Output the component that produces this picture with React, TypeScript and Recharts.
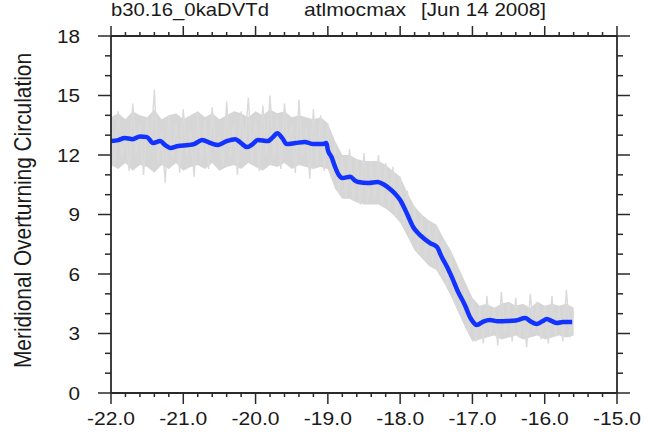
import React from 'react';
import { ComposedChart, Line, Area, XAxis, YAxis } from 'recharts';

const FONT = '"Liberation Sans", Arial, Helvetica, sans-serif';
const AXIS = '#2a2a2a';
const TEXT = '#1a1a1a';

const TITLE_PARTS = ['b30.16_0kaDVTd', 'atlmocmax', '[Jun 14 2008]'];
const Y_LABEL = 'Meridional Overturning Circulation';

const X_MAJOR = [-22, -21, -20, -19, -18, -17, -16, -15];
const X_MINOR = [
  -21.8, -21.6, -21.4, -21.2, -20.8, -20.6, -20.4, -20.2, -19.8, -19.6, -19.4, -19.2,
  -18.8, -18.6, -18.4, -18.2, -17.8, -17.6, -17.4, -17.2, -16.8, -16.6, -16.4, -16.2,
  -15.8, -15.6, -15.4, -15.2,
];
const Y_MAJOR = [0, 3, 6, 9, 12, 15, 18];
const Y_MINOR = [1, 2, 4, 5, 7, 8, 10, 11, 13, 14, 16, 17];

// raw samples (grey spikes), one every 0.05 kyr from -22.0
const GREY_START = -22;
const GREY_STEP = 0.05;
const greyValues = [
  13.4, 11.5, 14.2, 11.9, 13.0, 11.2, 14.6, 12.1, 13.5, 11.0,
  13.9, 12.3, 15.3, 11.6, 13.1, 10.6, 14.0, 11.8, 13.6, 11.1,
  14.3, 12.0, 13.2, 10.9, 14.1, 11.7, 13.8, 11.3, 14.4, 12.2,
  13.0, 11.4, 14.7, 11.9, 13.5, 11.0, 14.2, 12.4, 14.9, 11.6,
  13.7, 11.2, 14.5, 12.0, 15.0, 11.8, 13.9, 11.3, 14.6, 12.5,
  13.6, 11.1, 14.8, 11.9, 13.4, 10.8, 14.3, 11.5, 14.0, 11.2,
  13.6, 10.8, 12.6, 10.1, 11.9, 9.9, 12.3, 9.7, 11.8, 9.5,
  12.1, 9.6, 11.7, 9.8, 12.0, 9.4, 11.6, 9.3, 11.4, 8.9,
  10.9, 8.5, 10.2, 7.8, 9.4, 7.0, 8.9, 6.8, 8.6, 6.5,
  8.4, 6.1, 7.6, 5.4, 7.0, 4.6, 6.1, 3.9, 5.3, 3.0,
  4.6, 2.6, 4.4, 2.5, 4.9, 2.9, 4.3, 2.4, 5.1, 3.0,
  4.5, 2.6, 4.8, 2.8, 4.2, 2.3, 5.0, 3.1, 4.6, 2.7,
  4.4, 2.5, 4.9, 2.9, 4.3, 2.6, 5.2, 2.8, 4.1,
];

// dense core of the grey spread, one every 0.1 kyr from -22.0
const BAND_STEP = 0.1;
const bandLow = [
  11.5, 11.3, 11.6, 11.2, 11.5, 11.4, 11.1, 11.5, 11.3, 11.6,
  11.2, 11.4, 11.5, 11.3, 11.6, 11.2, 11.4, 11.5, 11.3, 11.6,
  11.4, 11.2, 11.5, 11.4, 11.6, 11.3, 11.5, 11.4, 11.3, 11.4,
  11.3, 10.3, 9.8, 9.8, 9.6, 9.5, 9.5, 9.5, 9.3, 9.0,
  8.6, 7.9, 7.2, 6.8, 6.4, 6.2, 5.6, 4.9, 4.1, 3.3,
  2.6, 2.7, 2.8, 2.9, 2.7, 2.8, 2.9, 2.7, 2.8, 2.9,
  2.7, 2.8, 2.9, 2.8, 2.9,
];
const bandHigh = [
  13.9, 14.1, 13.8, 14.2, 14.0, 13.9, 14.3, 13.8, 14.0, 14.1,
  13.8, 14.0, 14.2, 13.9, 14.1, 13.8, 14.0, 14.2, 14.1, 13.9,
  14.2, 14.0, 14.3, 14.1, 14.2, 13.9, 14.0, 13.9, 13.8, 13.9,
  13.6, 12.7, 12.0, 12.0, 11.8, 11.7, 11.7, 11.7, 11.5, 11.2,
  10.9, 10.1, 9.4, 9.0, 8.7, 8.5, 7.8, 7.2, 6.4, 5.6,
  4.8, 4.4, 4.5, 4.3, 4.5, 4.6, 4.4, 4.5, 4.3, 4.6,
  4.4, 4.5, 4.4, 4.5, 4.3,
];

// smoothed curve (blue)
const blueYears = [
  -22.0, -21.9, -21.81, -21.7, -21.6, -21.5, -21.42, -21.32, -21.25, -21.18,
  -21.07, -20.93, -20.85, -20.74, -20.62, -20.52, -20.4, -20.28, -20.2, -20.12,
  -20.04, -19.97, -19.83, -19.76, -19.7, -19.63, -19.57, -19.45, -19.32, -19.2,
  -19.08, -19.02, -19.0, -18.95, -18.9, -18.85, -18.8, -18.69, -18.62, -18.58,
  -18.44, -18.31, -18.22, -18.14, -18.07, -18.0, -17.9, -17.82, -17.75, -17.68,
  -17.58, -17.49, -17.43, -17.35, -17.28, -17.21, -17.1, -17.03, -16.99, -16.94,
  -16.85, -16.76, -16.65, -16.52, -16.4, -16.27, -16.2, -16.11, -16.04, -15.97,
  -15.9, -15.83, -15.75, -15.62,
];
const blueValues = [
  12.7, 12.75, 12.86, 12.8, 12.93, 12.9, 12.6, 12.7, 12.5, 12.35,
  12.45, 12.5, 12.55, 12.76, 12.6, 12.5, 12.7, 12.8, 12.6, 12.4,
  12.55, 12.76, 12.7, 12.9, 13.1, 12.85, 12.55, 12.6, 12.66, 12.55,
  12.55, 12.6, 12.25, 11.9, 11.4, 11.0, 10.84, 10.9, 10.7, 10.64,
  10.59, 10.64, 10.5, 10.29, 10.05, 9.73, 9.0, 8.37, 8.05, 7.82,
  7.55, 7.36, 6.9, 6.35, 5.8, 5.19, 4.4, 3.8, 3.58, 3.43,
  3.6, 3.68, 3.62, 3.63, 3.66, 3.78, 3.62, 3.48, 3.6, 3.73,
  3.62, 3.53, 3.58, 3.58,
];

const greyData = greyValues.map((v, i) => ({
  year: +(GREY_START + i * GREY_STEP).toFixed(2),
  value: v,
}));
const bandData = bandLow.map((lo, i) => ({
  year: +(GREY_START + i * BAND_STEP).toFixed(2),
  range: [lo, bandHigh[i]],
}));
const blueData = blueYears.map((y, i) => ({ year: y, value: blueValues[i] }));

const isWhole = (v: number) => Math.abs(v - Math.round(v)) < 1e-6;

const BottomTick = ({ x, y, payload }: any) => {
  const major = isWhole(payload.value);
  return (
    <g>
      <line x1={x} x2={x} y1={y} y2={y + (major ? 11 : 4)} stroke={AXIS} strokeWidth={1.5} />
      {major && (
        <text
          x={x}
          y={y + 32}
          textAnchor="middle"
          fontSize={18}
          fontFamily={FONT}
          fill={TEXT}
          textLength={48}
          lengthAdjust="spacingAndGlyphs"
        >
          {payload.value.toFixed(1)}
        </text>
      )}
    </g>
  );
};

const TopTick = ({ x, y, payload }: any) => {
  const major = isWhole(payload.value);
  return <line x1={x} x2={x} y1={y} y2={y - (major ? 10 : 4)} stroke={AXIS} strokeWidth={1.5} />;
};

const LeftTick = ({ x, y, payload }: any) => {
  const major = payload.value % 3 === 0;
  const label = String(payload.value);
  return (
    <g>
      <line x1={x} x2={x - (major ? 13 : 6)} y1={y} y2={y} stroke={AXIS} strokeWidth={1.5} />
      {major && (
        <text
          x={x - 31}
          y={y + 6.5}
          textAnchor="end"
          fontSize={18}
          fontFamily={FONT}
          fill={TEXT}
          textLength={label.length * 11.5}
          lengthAdjust="spacingAndGlyphs"
        >
          {label}
        </text>
      )}
    </g>
  );
};

const RightTick = ({ x, y, payload }: any) => {
  const major = payload.value % 3 === 0;
  return <line x1={x} x2={x + (major ? 13 : 6)} y1={y} y2={y} stroke={AXIS} strokeWidth={1.5} />;
};

const TitleLabel = ({ viewBox }: any) => {
  const left = viewBox && viewBox.x != null ? viewBox.x : 111;
  const widths = [158, 102, 125];
  const offsets = [0, 193, 310];
  return (
    <g>
      {TITLE_PARTS.map((t, i) => (
        <text
          key={t}
          x={left + offsets[i]}
          y={16}
          fontSize={19}
          fontFamily={FONT}
          fill={TEXT}
          textLength={widths[i]}
          lengthAdjust="spacingAndGlyphs"
        >
          {t}
        </text>
      ))}
    </g>
  );
};

const YTitle = ({ viewBox }: any) => {
  const cy = viewBox && viewBox.height ? viewBox.y + viewBox.height / 2 - 4 : 210;
  return (
    <text
      transform={`translate(31,${cy}) rotate(-90)`}
      textAnchor="middle"
      fontSize={24}
      fontFamily={FONT}
      fill={TEXT}
      textLength={315}
      lengthAdjust="spacingAndGlyphs"
    >
      {Y_LABEL}
    </text>
  );
};

export default function App() {
  const xTicks = [...X_MAJOR, ...X_MINOR].sort((a, b) => a - b);
  const yTicks = [...Y_MAJOR, ...Y_MINOR].sort((a, b) => a - b);
  const axisLine = { stroke: AXIS, strokeWidth: 1.8 };

  return (
    <div style={{ position: 'absolute', left: 0, top: 0, background: '#fff' }}>
      <ComposedChart width={648} height={432} margin={{ top: 35, right: 30, bottom: 0, left: 0 }}>
        <XAxis
          xAxisId="bottom"
          dataKey="year"
          type="number"
          domain={[-22, -15]}
          ticks={xTicks}
          interval={0}
          height={39}
          tickSize={0}
          tickMargin={0}
          tickLine={false}
          axisLine={axisLine}
          tick={<BottomTick />}
          allowDataOverflow
        />
        <XAxis
          xAxisId="top"
          orientation="top"
          dataKey="year"
          type="number"
          domain={[-22, -15]}
          ticks={xTicks}
          interval={0}
          height={1}
          tickSize={0}
          tickMargin={0}
          tickLine={false}
          axisLine={axisLine}
          tick={<TopTick />}
          label={{ content: (p: any) => <TitleLabel {...p} /> }}
          allowDataOverflow
        />
        <YAxis
          yAxisId="left"
          type="number"
          domain={[0, 18]}
          ticks={yTicks}
          interval={0}
          width={111}
          tickSize={0}
          tickMargin={0}
          tickLine={false}
          axisLine={axisLine}
          tick={<LeftTick />}
          label={{ content: (p: any) => <YTitle {...p} /> }}
          allowDataOverflow
        />
        <YAxis
          yAxisId="right"
          orientation="right"
          type="number"
          domain={[0, 18]}
          ticks={yTicks}
          interval={0}
          width={1}
          tickSize={0}
          tickMargin={0}
          tickLine={false}
          axisLine={axisLine}
          tick={<RightTick />}
          allowDataOverflow
        />
        <Line
          xAxisId="bottom"
          yAxisId="left"
          data={greyData}
          dataKey="value"
          type="linear"
          stroke="#dadada"
          strokeWidth={1.4}
          dot={false}
          isAnimationActive={false}
        />
        <Area
          xAxisId="bottom"
          yAxisId="left"
          data={bandData}
          dataKey="range"
          type="linear"
          stroke="none"
          fill="#cfcfcf"
          fillOpacity={0.85}
          isAnimationActive={false}
        />
        <Line
          xAxisId="bottom"
          yAxisId="left"
          data={blueData}
          dataKey="value"
          type="monotone"
          stroke="#1232ff"
          strokeWidth={4.5}
          strokeLinejoin="round"
          dot={false}
          isAnimationActive={false}
        />
      </ComposedChart>
    </div>
  );
}
